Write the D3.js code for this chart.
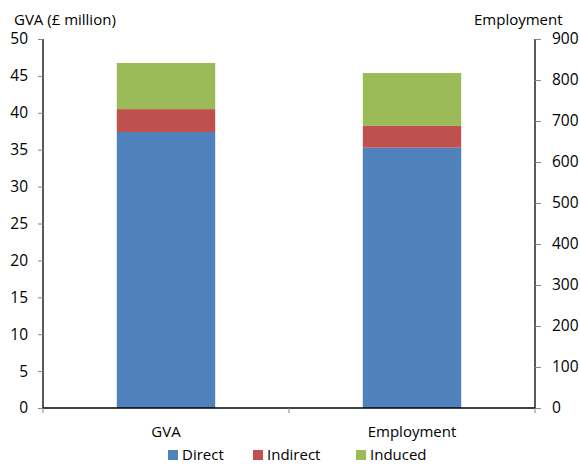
<!DOCTYPE html>
<html><head><meta charset="utf-8">
<script src="https://cdn.jsdelivr.net/npm/d3@7"></script>
<style>body{margin:0;background:#fff;} text{font-family:"Open Sans",sans-serif;fill:#000;}</style>
</head><body>
<svg id="c" width="580" height="464"></svg>
<script>
const categories = ["GVA", "Employment"];
const seriesNames = ["Direct", "Indirect", "Induced"];
const colors = ["#4F81BD", "#C0504D", "#9BBB59"];
// GVA values on left axis (£ million), Employment on right axis (jobs)
const gvaValues = [37.4, 3.1, 6.25];
const employmentValues = [635, 53, 129];
const leftTicks = [0,5,10,15,20,25,30,35,40,45,50];
const rightTicks = [0,100,200,300,400,500,600,700,800,900];

const svg = d3.select("#c");
const L = 43, R = 535, T = 39, B = 408;
const x = d3.scaleBand().domain(categories).range([L, R]).paddingInner(0).paddingOuter(0);
const yL = d3.scaleLinear().domain([0, 50]).range([B, T]);
const yR = d3.scaleLinear().domain([0, 900]).range([B, T]);
const barW = x.bandwidth() * 0.4;

const data = [
  {cat: "GVA", vals: gvaValues, scale: yL},
  {cat: "Employment", vals: employmentValues, scale: yR}
];
data.forEach(d => {
  let cum = 0;
  d.vals.forEach((v, i) => {
    const y0 = d.scale(cum), y1 = d.scale(cum + v);
    svg.append("rect")
      .attr("x", x(d.cat) + (x.bandwidth() - barW) / 2)
      .attr("y", y1).attr("width", barW).attr("height", y0 - y1)
      .attr("fill", colors[i]);
    cum += v;
  });
});

// Left axis
const la = svg.append("g").attr("transform", `translate(${L},0)`)
  .call(d3.axisLeft(yL).tickValues(leftTicks).tickSize(5).tickPadding(10));
// Right axis
const ra = svg.append("g").attr("transform", `translate(${R},0)`)
  .call(d3.axisRight(yR).tickValues(rightTicks).tickSize(6).tickPadding(11));
[la, ra].forEach(g => {
  g.select(".domain").attr("stroke", "#000").attr("stroke-width", 1.3).attr("d", `M0,${T}V${B}`);
  g.selectAll(".tick line").attr("stroke", "#868686");
  g.selectAll(".tick text").style("font-size", "15.5px").style("font-family", "Open Sans").attr("fill", "#000");
});

// X axis
svg.append("line").attr("x1", L).attr("x2", R).attr("y1", B).attr("y2", B).attr("stroke", "#000").attr("stroke-width", 1.3);
const xt = [L, (L + R) / 2, R];
xt.forEach(v => svg.append("line").attr("x1", v).attr("x2", v).attr("y1", B).attr("y2", B + 5).attr("stroke", "#868686"));
categories.forEach(c => {
  svg.append("text").attr("x", x(c) + x.bandwidth() / 2).attr("y", 437)
    .attr("text-anchor", "middle").style("font-size", "15px").text(c);
});

// Axis titles
svg.append("text").attr("x", 14).attr("y", 25).style("font-size", "15px").text("GVA (£ million)");
svg.append("text").attr("x", 474).attr("y", 25).style("font-size", "15px").text("Employment");

// Legend
const legX = [168, 253, 356];
seriesNames.forEach((s, i) => {
  svg.append("rect").attr("x", legX[i]).attr("y", 450).attr("width", 10).attr("height", 10).attr("fill", colors[i]);
  svg.append("text").attr("x", legX[i] + 14).attr("y", 460).style("font-size", "15px").text(s);
});
</script>
</body></html>
